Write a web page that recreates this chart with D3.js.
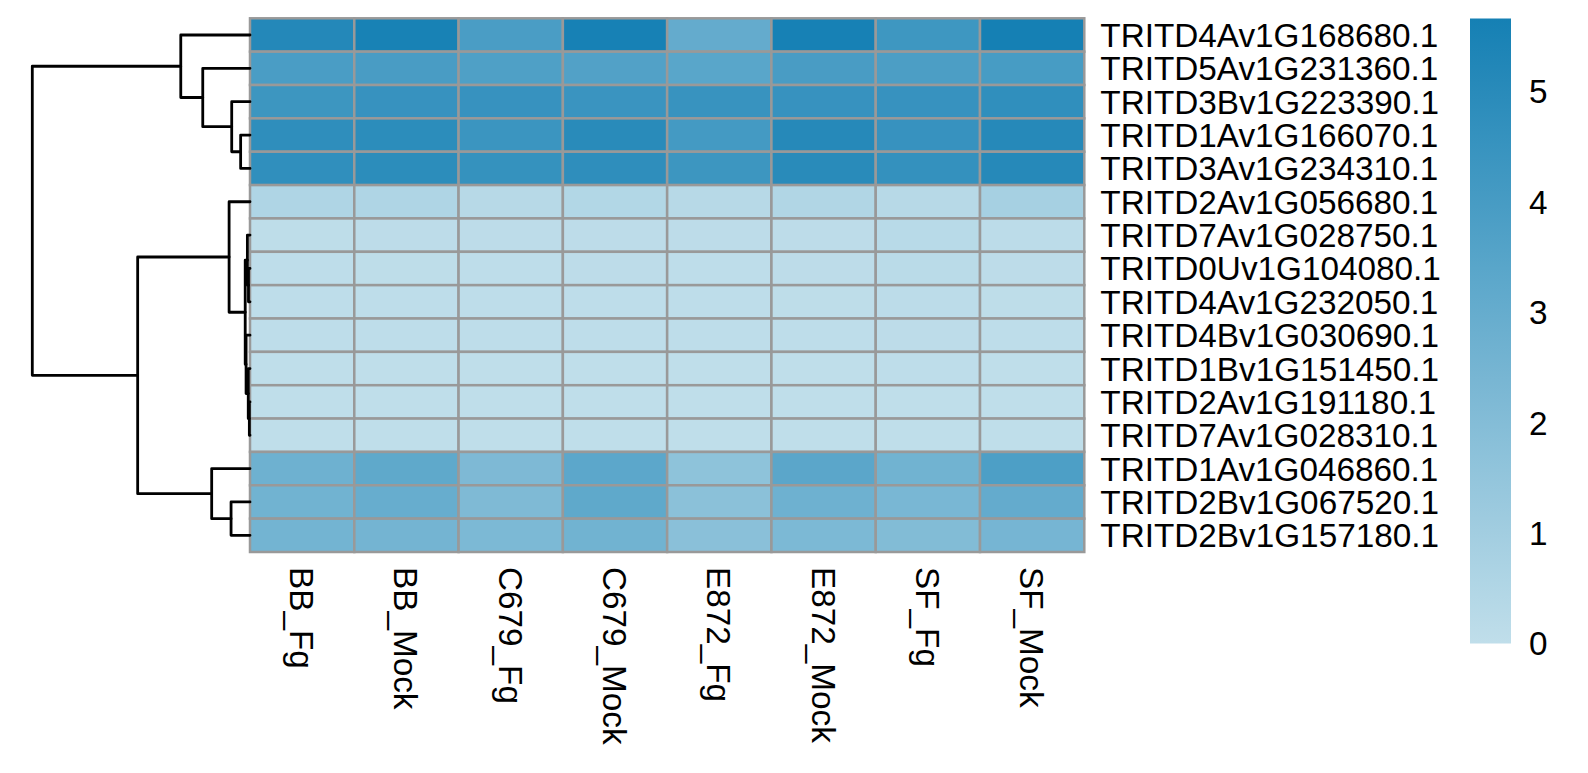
<!DOCTYPE html>
<html>
<head>
<meta charset="utf-8">
<script src="https://cdn.jsdelivr.net/npm/d3@7"></script>
<style>
  html, body { margin: 0; padding: 0; background: #ffffff; }
  svg { display: block; }
  text { font-family: "Liberation Sans", Arial, Helvetica, sans-serif; fill: #000; }
</style>
</head>
<body>
<svg id="chart" width="1588" height="773"></svg>
<script>
// ---------------- data ----------------
const samples = ["BB_Fg", "BB_Mock", "C679_Fg", "C679_Mock", "E872_Fg", "E872_Mock", "SF_Fg", "SF_Mock"];

const genes = [
  "TRITD4Av1G168680.1", "TRITD5Av1G231360.1", "TRITD3Bv1G223390.1", "TRITD1Av1G166070.1",
  "TRITD3Av1G234310.1", "TRITD2Av1G056680.1", "TRITD7Av1G028750.1", "TRITD0Uv1G104080.1",
  "TRITD4Av1G232050.1", "TRITD4Bv1G030690.1", "TRITD1Bv1G151450.1", "TRITD2Av1G191180.1",
  "TRITD7Av1G028310.1", "TRITD1Av1G046860.1", "TRITD2Bv1G067520.1", "TRITD2Bv1G157180.1"
];

// expression values, one array per gene (columns in sample order)
const v_168680 = [5.15, 5.55, 3.9, 5.6, 3.05, 5.6, 4.3, 5.66];
const v_231360 = [3.9, 3.95, 3.75, 3.65, 3.4, 3.95, 3.85, 4.0];
const v_223390 = [4.35, 4.55, 4.55, 4.45, 4.5, 4.55, 4.55, 4.75];
const v_166070 = [4.8, 4.9, 4.4, 5.0, 4.1, 5.1, 4.55, 5.1];
const v_234310 = [4.75, 4.9, 4.6, 4.8, 4.35, 5.0, 4.65, 5.1];
const v_056680 = [0.55, 0.55, 0.3, 0.45, 0.3, 0.5, 0.3, 0.85];
const v_028750 = [0.08, 0.1, 0.1, 0.1, 0.1, 0.1, 0.25, 0.12];
const v_104080 = [0.05, 0.08, 0.05, 0.1, 0.05, 0.1, 0.2, 0.1];
const v_232050 = [0.05, 0.05, 0.05, 0.05, 0.05, 0.08, 0.12, 0.08];
const v_030690 = [0.05, 0.05, 0.05, 0.05, 0.05, 0.05, 0.1, 0.05];
const v_151450 = [0.03, 0.03, 0.03, 0.03, 0.03, 0.03, 0.05, 0.03];
const v_191180 = [0.02, 0.02, 0.02, 0.02, 0.02, 0.02, 0.03, 0.02];
const v_028310 = [0.02, 0.02, 0.02, 0.02, 0.02, 0.02, 0.03, 0.02];
const v_046860 = [2.7, 3.2, 2.2, 3.3, 1.65, 3.35, 2.6, 3.8];
const v_067520 = [2.6, 2.95, 2.15, 3.2, 1.75, 2.7, 2.35, 3.05];
const v_157180 = [2.55, 2.5, 2.25, 2.6, 1.8, 2.25, 2.05, 2.45];

const values = [v_168680, v_231360, v_223390, v_166070, v_234310, v_056680, v_028750, v_104080,
                v_232050, v_030690, v_151450, v_191180, v_028310, v_046860, v_067520, v_157180];

// row clustering (hclust style: negative = leaf (1-based row), positive = earlier merge)
const merges = [
  [-4, -5, 0.43],
  [-3, 1, 0.84],
  [-2, 2, 2.17],
  [-1, 3, 3.18],
  [-8, -9, 0.07],
  [-7, 5, 0.12],
  [-12, -13, 0.03],
  [-11, 7, 0.08],
  [-10, 8, 0.18],
  [6, 9, 0.22],
  [-6, 10, 0.96],
  [-15, -16, 0.87],
  [-14, 12, 1.76],
  [11, 13, 5.16],
  [4, 14, 10.0]
];

const legendTicks = [0, 1, 2, 3, 4, 5];
const valueMax = 5.66;

// ---------------- layout ----------------
const svg = d3.select("#chart");
const hm = { left: 250, right: 1084.3, top: 18.3, bottom: 552 };
const fontPx = 33.3;

const x = d3.scaleBand().domain(samples).range([hm.left, hm.right]);
const y = d3.scaleBand().domain(genes).range([hm.top, hm.bottom]);
const color = d3.scaleLinear().domain([0, valueMax])
  .range(["#c0deea", "#1580b4"]).interpolate(d3.interpolateRgb);

// ---------------- heatmap cells ----------------
const cells = [];
genes.forEach((g, i) => samples.forEach((s, j) => cells.push({ g, s, v: values[i][j] })));
svg.append("g").selectAll("rect").data(cells).join("rect")
  .attr("x", d => x(d.s)).attr("y", d => y(d.g))
  .attr("width", x.bandwidth()).attr("height", y.bandwidth())
  .attr("fill", d => color(d.v))
  .attr("stroke", "#999999").attr("stroke-width", 2.5);

// ---------------- row labels ----------------
svg.append("g").selectAll("text").data(genes).join("text")
  .attr("x", hm.right + 16)
  .attr("y", d => y(d) + y.bandwidth() / 2)
  .attr("dy", "0.36em")
  .style("font-size", fontPx + "px")
  .text(d => d);

// ---------------- column labels ----------------
svg.append("g").selectAll("text").data(samples).join("text")
  .attr("transform", d => `translate(${x(d) + x.bandwidth() / 2},${hm.bottom + 15}) rotate(90)`)
  .attr("dy", "0.36em")
  .style("font-size", fontPx + "px")
  .text(d => d);

// ---------------- dendrogram ----------------
const hx = d3.scaleLinear().domain([0, d3.max(merges, m => m[2])]).range([hm.left, 32.3]);
const nodes = [];
function pos(id) {
  if (id < 0) {
    const g = genes[-id - 1];
    return { x: hx(0), y: y(g) + y.bandwidth() / 2 };
  }
  return nodes[id - 1];
}
const dendroPaths = [];
merges.forEach(m => {
  const a = pos(m[0]), b = pos(m[1]);
  const nx = hx(m[2]);
  dendroPaths.push(`M${a.x},${a.y}H${nx}V${b.y}H${b.x}`);
  nodes.push({ x: nx, y: (a.y + b.y) / 2 });
});
svg.append("g").selectAll("path").data(dendroPaths).join("path")
  .attr("d", d => d)
  .attr("fill", "none").attr("stroke", "#000").attr("stroke-width", 2.8)
  .attr("stroke-linecap", "round").attr("stroke-linejoin", "round");

// ---------------- colour legend ----------------
const lg = { x: 1470, w: 41, top: 18.5, bottom: 643.5 };
const ly = d3.scaleLinear().domain([0, valueMax]).range([lg.bottom, lg.top]);
const grad = svg.append("defs").append("linearGradient")
  .attr("id", "lgGrad").attr("x1", 0).attr("y1", 1).attr("x2", 0).attr("y2", 0);
grad.selectAll("stop").data(d3.range(0, 1.0001, 0.1)).join("stop")
  .attr("offset", d => d)
  .attr("stop-color", d => color(d * valueMax));
svg.append("rect")
  .attr("x", lg.x).attr("y", lg.top)
  .attr("width", lg.w).attr("height", lg.bottom - lg.top)
  .attr("fill", "url(#lgGrad)");
svg.append("g").selectAll("text").data(legendTicks).join("text")
  .attr("x", 1529)
  .attr("y", d => ly(d))
  .attr("dy", "0.36em")
  .style("font-size", fontPx + "px")
  .text(d => d);
</script>
</body>
</html>
